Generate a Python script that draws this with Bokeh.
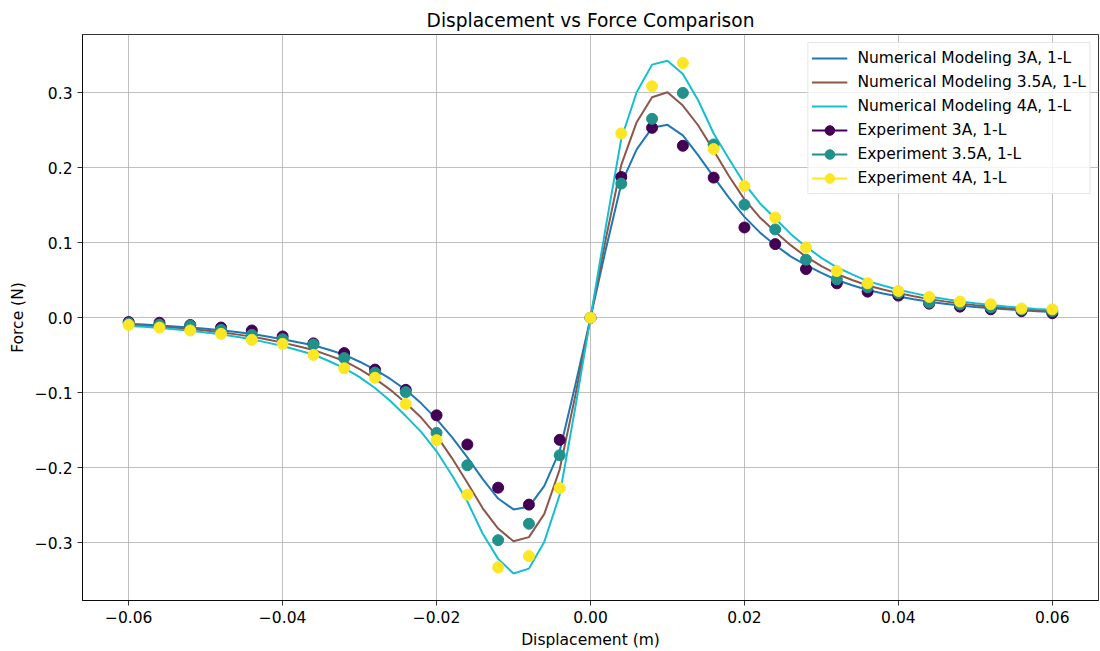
from bokeh.plotting import figure
from bokeh.models import FixedTicker, Legend, LegendItem, Range1d
from bokeh.embed import file_html
from bokeh.resources import INLINE

# Displacement grid of the numerical model (m)
x_model = [-0.060, -0.058, -0.056, -0.054, -0.052, -0.050, -0.048, -0.046, -0.044, -0.042,
           -0.040, -0.038, -0.036, -0.034, -0.032, -0.030, -0.028, -0.026, -0.024, -0.022,
           -0.020, -0.018, -0.016, -0.014, -0.012, -0.010, -0.008, -0.006, -0.004, -0.002,
           0.000, 0.002, 0.004, 0.006, 0.008, 0.010, 0.012, 0.014, 0.016, 0.018,
           0.020, 0.022, 0.024, 0.026, 0.028, 0.030, 0.032, 0.034, 0.036, 0.038,
           0.040, 0.042, 0.044, 0.046, 0.048, 0.050, 0.052, 0.054, 0.056, 0.058, 0.060]

# Numerical force curves (N)
model_3a = [-0.0080, -0.0090, -0.0101, -0.0114, -0.0128, -0.0146, -0.0165, -0.0189, -0.0215, -0.0248,
            -0.0284, -0.0325, -0.0365, -0.0425, -0.0490, -0.0585, -0.0690, -0.0815, -0.0960, -0.1140,
            -0.1350, -0.1590, -0.1860, -0.2150, -0.2410, -0.2555, -0.2520, -0.2240, -0.1775, -0.0910,
            0.0000, 0.0920, 0.1790, 0.2247, 0.2535, 0.2575, 0.2434, 0.2168, 0.1880, 0.1600,
            0.1347, 0.1140, 0.0970, 0.0820, 0.0705, 0.0600, 0.0505, 0.0435, 0.0372, 0.0325,
            0.0284, 0.0248, 0.0215, 0.0189, 0.0165, 0.0146, 0.0128, 0.0114, 0.0101, 0.0090, 0.0080]

model_35a = [-0.0093, -0.0105, -0.0118, -0.0133, -0.0150, -0.0170, -0.0192, -0.0220, -0.0250, -0.0288,
             -0.0330, -0.0378, -0.0428, -0.0500, -0.0575, -0.0685, -0.0810, -0.0960, -0.1135, -0.1330,
             -0.1570, -0.1870, -0.2200, -0.2540, -0.2810, -0.2980, -0.2925, -0.2615, -0.2020, -0.1050,
             0.0000, 0.1060, 0.2040, 0.2610, 0.2943, 0.3010, 0.2832, 0.2566, 0.2234, 0.1890,
             0.1580, 0.1340, 0.1148, 0.0970, 0.0816, 0.0690, 0.0585, 0.0505, 0.0432, 0.0378,
             0.0330, 0.0288, 0.0250, 0.0220, 0.0192, 0.0170, 0.0150, 0.0133, 0.0118, 0.0105, 0.0093]

model_4a = [-0.0107, -0.0120, -0.0135, -0.0152, -0.0171, -0.0195, -0.0220, -0.0252, -0.0286, -0.0330,
            -0.0375, -0.0432, -0.0488, -0.0575, -0.0670, -0.0790, -0.0935, -0.1110, -0.1310, -0.1520,
            -0.1780, -0.2100, -0.2450, -0.2880, -0.3215, -0.3410, -0.3345, -0.2985, -0.2360, -0.1210,
            0.0000, 0.1220, 0.2390, 0.3010, 0.3378, 0.3430, 0.3254, 0.2900, 0.2460, 0.2120,
            0.1790, 0.1530, 0.1326, 0.1120, 0.0950, 0.0800, 0.0675, 0.0580, 0.0490, 0.0432,
            0.0375, 0.0330, 0.0286, 0.0252, 0.0220, 0.0195, 0.0171, 0.0152, 0.0135, 0.0120, 0.0107]

# Measured displacement positions (m)
x_exp = [-0.060, -0.056, -0.052, -0.048, -0.044, -0.040, -0.036, -0.032, -0.028, -0.024,
         -0.020, -0.016, -0.012, -0.008, -0.004, 0.000, 0.004, 0.008, 0.012, 0.016,
         0.020, 0.024, 0.028, 0.032, 0.036, 0.040, 0.044, 0.048, 0.052, 0.056, 0.060]

# Measured forces (N)
exp_3a = [-0.0055, -0.0065, -0.0095, -0.0129, -0.0168, -0.0248, -0.0340, -0.0470, -0.0690, -0.0960,
          -0.1300, -0.1689, -0.2265, -0.2491, -0.1627, 0.0000, 0.1879, 0.2535, 0.2296, 0.1871,
          0.1206, 0.0984, 0.0652, 0.0461, 0.0350, 0.0297, 0.0190, 0.0150, 0.0115, 0.0089, 0.0062]

exp_35a = [-0.0072, -0.0090, -0.0102, -0.0160, -0.0226, -0.0284, -0.0355, -0.0536, -0.0730, -0.0990,
           -0.1534, -0.1966, -0.2965, -0.2746, -0.1833, 0.0000, 0.1791, 0.2655, 0.3001, 0.2314,
           0.1510, 0.1180, 0.0776, 0.0515, 0.0408, 0.0330, 0.0204, 0.0180, 0.0140, 0.0110, 0.0090]

exp_4a = [-0.0093, -0.0129, -0.0168, -0.0213, -0.0293, -0.0346, -0.0494, -0.0672, -0.0798, -0.1148,
          -0.1631, -0.2358, -0.3327, -0.3178, -0.2270, 0.0000, 0.2460, 0.3090, 0.3400, 0.2252,
          0.1760, 0.1339, 0.0940, 0.0625, 0.0461, 0.0359, 0.0279, 0.0217, 0.0182, 0.0124, 0.0115]

x_ticks = [-0.06, -0.04, -0.02, 0.0, 0.02, 0.04, 0.06]
x_tick_labels = ["\u22120.06", "\u22120.04", "\u22120.02", "0.00", "0.02", "0.04", "0.06"]
y_ticks = [-0.3, -0.2, -0.1, 0.0, 0.1, 0.2, 0.3]
y_tick_labels = ["\u22120.3", "\u22120.2", "\u22120.1", "0.0", "0.1", "0.2", "0.3"]

FONT = "DejaVu Sans"
TEXT_SIZE = "15.5px"

p = figure(width=1100, height=651,
           x_range=Range1d(-0.066, 0.066), y_range=Range1d(-0.377, 0.378),
           output_backend="svg", toolbar_location=None,
           min_border_left=82, min_border_right=2, min_border_top=34, min_border_bottom=50)

p.title.text = "Displacement vs Force Comparison"
p.title.align = "center"
p.title.text_font = FONT
p.title.text_font_size = "18.6px"
p.title.text_font_style = "normal"
p.title.text_color = "black"
p.title.standoff = 7

p.xaxis.axis_label = "Displacement (m)"
p.yaxis.axis_label = "Force (N)"
p.xaxis.ticker = FixedTicker(ticks=x_ticks)
p.yaxis.ticker = FixedTicker(ticks=y_ticks)
p.xaxis.major_label_overrides = dict(zip(x_ticks, x_tick_labels))
p.yaxis.major_label_overrides = dict(zip(y_ticks, y_tick_labels))

for ax in (p.xaxis[0], p.yaxis[0]):
    ax.axis_label_text_font = FONT
    ax.axis_label_text_font_size = TEXT_SIZE
    ax.axis_label_text_font_style = "normal"
    ax.axis_label_text_color = "black"
    ax.major_label_text_font = FONT
    ax.major_label_text_font_size = TEXT_SIZE
    ax.major_label_text_color = "black"
    ax.axis_line_color = "black"
    ax.axis_line_width = 0.8
    ax.major_tick_line_color = "black"
    ax.major_tick_line_width = 0.8
    ax.major_tick_out = 5
    ax.major_tick_in = 0
    ax.minor_tick_out = 0
    ax.minor_tick_in = 0
    ax.major_label_standoff = 5
    ax.axis_label_standoff = 5

p.grid.grid_line_color = "#b0b0b0"
p.grid.grid_line_width = 0.8
p.outline_line_color = "black"
p.outline_line_width = 0.8
p.outline_line_alpha = 1.0

# Numerical model curves
r_m3 = p.line(x_model, model_3a, line_color="#1f77b4", line_width=2)
r_m35 = p.line(x_model, model_35a, line_color="#8c564b", line_width=2)
r_m4 = p.line(x_model, model_4a, line_color="#17becf", line_width=2)

# Measurements as markers; a line with no drawable points gives the legend its line sample
items = [
    LegendItem(label="Numerical Modeling 3A, 1-L", renderers=[r_m3]),
    LegendItem(label="Numerical Modeling 3.5A, 1-L", renderers=[r_m35]),
    LegendItem(label="Numerical Modeling 4A, 1-L", renderers=[r_m4]),
]
nan = float("nan")
for label, ys, color in (("Experiment 3A, 1-L", exp_3a, "#440154"),
                         ("Experiment 3.5A, 1-L", exp_35a, "#21918c"),
                         ("Experiment 4A, 1-L", exp_4a, "#fde725")):
    r_ln = p.line(x=[nan, nan], y=[nan, nan], line_color=color, line_width=2)
    r_pts = p.scatter(x_exp, ys, size=11, fill_color=color, line_color=color, marker="circle")
    items.append(LegendItem(label=label, renderers=[r_ln, r_pts]))

legend = Legend(items=items, location="top_right")
legend.margin = 8
legend.padding = 3
legend.spacing = 0
legend.glyph_width = 36
legend.glyph_height = 24
legend.label_height = 24
legend.label_standoff = 10
legend.label_text_font = FONT
legend.label_text_font_size = TEXT_SIZE
legend.label_text_color = "black"
legend.background_fill_color = "white"
legend.background_fill_alpha = 0.8
legend.border_line_color = "#cccccc"
legend.border_line_width = 1
p.add_layout(legend)

open("out.html", "w").write(file_html(p, INLINE))
